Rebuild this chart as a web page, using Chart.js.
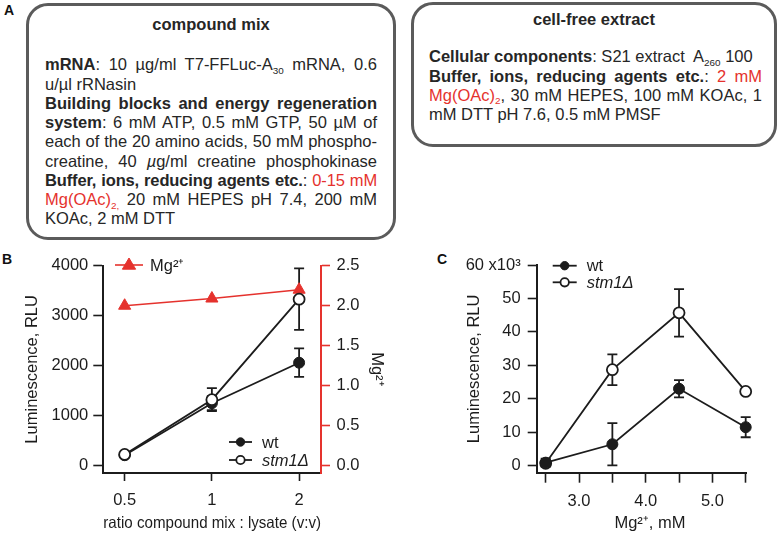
<!DOCTYPE html>
<html>
<head>
<meta charset="utf-8">
<script src="https://cdn.jsdelivr.net/npm/chart.js@4/dist/chart.umd.min.js"></script>
<style>
  body{margin:0;background:#fff;}
  #page{position:relative;width:778px;height:533px;overflow:hidden;font-family:"Liberation Sans",Arial,sans-serif;color:#262626;}
  .box{position:absolute;box-sizing:border-box;border:3.5px solid #5b5b5b;border-radius:22px;}
  .head{position:absolute;font-weight:bold;font-size:16.5px;line-height:20px;text-align:center;}
  .txt{position:absolute;font-size:16.5px;}
  .txt div{text-align:justify;text-align-last:justify;height:19.25px;line-height:19.25px;}
  .txt div.l{text-align-last:left;}
  .red{color:#e5322d;}
  .sub{font-size:0.6em;position:relative;top:0.35em;line-height:0;}
  .letter{position:absolute;font-weight:bold;font-size:14px;line-height:14px;color:#111;}
  canvas{position:absolute;}
</style>
</head>
<body>
<div id="page">
  <div class="letter" style="left:4px;top:3px">A</div>
  <div class="letter" style="left:2px;top:252px">B</div>
  <div class="letter" style="left:437px;top:252px">C</div>

  <div class="box" style="left:26px;top:3px;width:370px;height:237px"></div>
  <div class="head" style="left:26px;top:14px;width:370px">compound mix</div>
  <div class="txt" style="left:45px;top:55.4px;width:332px">
    <div><b>mRNA</b>: 10 µg/ml T7-FFLuc-A<span class="sub">30</span> mRNA, 0.6</div>
    <div class="l">u/µl rRNasin</div>
    <div><b>Building blocks and energy regeneration</b></div>
    <div><b>system</b>: 6 mM ATP, 0.5 mM GTP, 50 µM of</div>
    <div>each of the 20 amino acids, 50 mM phospho-</div>
    <div>creatine, 40 <i>µ</i>g/ml creatine phosphokinase</div>
    <div style="letter-spacing:-0.15px"><b>Buffer, ions, reducing agents etc.</b>: <span class="red">0-15 mM</span></div>
    <div><span class="red">Mg(OAc)<span class="sub">2,</span></span> 20 mM HEPES pH 7.4, 200 mM</div>
    <div class="l">KOAc, 2 mM DTT</div>
  </div>

  <div class="box" style="left:411px;top:2px;width:366px;height:145px"></div>
  <div class="head" style="left:411px;top:9px;width:366px">cell-free extract</div>
  <div class="txt" style="left:429px;top:47.4px;width:333px">
    <div class="l"><b>Cellular components</b>: S21 extract&nbsp; A<span class="sub">260</span> 100</div>
    <div><b>Buffer, ions, reducing agents etc.</b>: <span class="red">2 mM</span></div>
    <div><span class="red">Mg(OAc)<span class="sub">2</span></span>, 30 mM HEPES, 100 mM KOAc, 1</div>
    <div class="l">mM DTT pH 7.6, 0.5 mM PMSF</div>
  </div>

  <canvas id="chartB" width="400" height="293" style="left:0;top:240px"></canvas>
  <canvas id="chartC" width="378" height="293" style="left:400px;top:240px"></canvas>
</div>
<script>
// panel B: ratio compound mix : lysate
const ratios=[0.5,1,2];
const wtB=[210,1250,2060];
const wtErrB=[30,140,285];
const stmB=[225,1320,3330];
const stmErrB=[30,230,615];
const mgB=[2.0,2.09,2.2];
const bLeftTicks=[0,1000,2000,3000,4000];
const bRightTicks=[0,0.5,1,1.5,2,2.5];

// panel C: Mg2+ titration
const mgConc=[2.5,3.5,4.5,5.5];
const wtC=[0.9,6.4,23.0,11.5];
const wtErrC=[1.2,6.3,2.6,3.0];
const stmC=[0.7,28.7,45.7,22.2];
const stmErrC=[0.5,4.6,7.1,0];
const cYTicks=[0,10,20,30,40,50,60];
const cXTicks=[2.5,3,3.5,4,4.5,5,5.5];

const FONT='"Liberation Sans", Arial, sans-serif';
const INK='#1c1c1c';
const RED='#e5322d';
const tickFont={family:FONT,size:16.5};

function pts(xs,ys){ return xs.map((x,i)=>({x:x,y:ys[i]})); }
function fixTicks(list){ return s=>{ s.ticks=list.map(v=>({value:v})); }; }

// vertical error bars with caps, drawn under the markers
const errorBars={
  id:'errorBars',
  beforeDatasetsDraw(chart){
    const ctx=chart.ctx;
    chart.data.datasets.forEach((ds,di)=>{
      if(!ds.errors) return;
      const meta=chart.getDatasetMeta(di);
      const ys=chart.scales[meta.yAxisID];
      meta.data.forEach((pt,i)=>{
        const e=ds.errors[i];
        if(!e) return;
        const v=ds.data[i].y;
        const t=ys.getPixelForValue(v+e), b=ys.getPixelForValue(v-e);
        ctx.save();
        ctx.strokeStyle=ds.borderColor; ctx.lineWidth=1.8;
        ctx.beginPath();
        ctx.moveTo(pt.x,t); ctx.lineTo(pt.x,b);
        ctx.moveTo(pt.x-5,t); ctx.lineTo(pt.x+5,t);
        ctx.moveTo(pt.x-5,b); ctx.lineTo(pt.x+5,b);
        ctx.stroke();
        ctx.restore();
      });
    });
  }
};

// small hand-placed keys
const keyBox={
  id:'keyBox',
  afterDraw(chart,args,opts){
    const ctx=chart.ctx;
    (opts.groups||[]).forEach(g=>{
      g.items.forEach((it,k)=>{
        const ds=chart.data.datasets[it.ds];
        const y=g.y+k*g.row, cx=g.x+g.len/2;
        ctx.save();
        ctx.strokeStyle=ds.borderColor; ctx.lineWidth=ds.borderWidth;
        ctx.beginPath(); ctx.moveTo(g.x,y); ctx.lineTo(g.x+g.len,y); ctx.stroke();
        ctx.fillStyle=ds.pointBackgroundColor; ctx.strokeStyle=ds.pointBorderColor;
        ctx.lineWidth=ds.pointBorderWidth||1;
        ctx.beginPath();
        if(ds.pointStyle==='triangle'){
          const r=g.r;
          ctx.moveTo(cx,y-r); ctx.lineTo(cx+r*0.95,y+r*0.6); ctx.lineTo(cx-r*0.95,y+r*0.6); ctx.closePath();
        } else {
          ctx.arc(cx,y,g.r,0,Math.PI*2);
        }
        ctx.fill(); ctx.stroke();
        ctx.fillStyle=INK;
        ctx.font=(it.italic?'italic ':'')+'16.5px '+FONT;
        ctx.textBaseline='middle'; ctx.textAlign='left';
        ctx.fillText(ds.label,g.x+g.len+g.gap,y+1);
        ctx.restore();
      });
    });
  }
};

function blackAxis(extra){
  return Object.assign({
    grid:{drawOnChartArea:false,drawTicks:true,tickLength:9,color:INK,tickColor:INK,tickWidth:1.6},
    border:{display:true,color:INK,width:2}
  },extra);
}

new Chart(document.getElementById('chartB'),{
  type:'line',
  data:{datasets:[
    {label:'stm1Δ',data:pts(ratios,stmB),errors:stmErrB,yAxisID:'y',borderColor:INK,borderWidth:1.8,clip:false,
     pointRadius:5.5,pointBackgroundColor:'#fff',pointBorderColor:INK,pointBorderWidth:1.8},
    {label:'wt',data:pts(ratios,wtB),errors:wtErrB,yAxisID:'y',borderColor:INK,borderWidth:1.8,clip:false,
     pointRadius:5.5,pointBackgroundColor:INK,pointBorderColor:INK,pointBorderWidth:1},
    {label:'Mg²⁺',data:pts(ratios,mgB),yAxisID:'y2',borderColor:RED,borderWidth:1.6,pointStyle:'triangle',clip:false,
     pointRadius:7,pointBackgroundColor:RED,pointBorderColor:RED,pointBorderWidth:1}
  ]},
  options:{
    responsive:false,animation:false,
    layout:{padding:{top:25.7,left:0,right:0,bottom:0}},
    plugins:{legend:{display:false},tooltip:{enabled:false},
      keyBox:{groups:[
        {x:115,y:25,len:28,gap:7,row:18,r:7,items:[{ds:2}]},
        {x:229,y:202,len:23,gap:10,row:18,r:4.2,items:[{ds:1},{ds:0,italic:true}]}
      ]}},
    scales:{
      x:blackAxis({type:'logarithmic',position:'bottom',min:0.422,max:2.38,
        afterBuildTicks:fixTicks(ratios),afterFit:s=>{s.height=60;},
        grid:{drawOnChartArea:false,drawTicks:true,tickLength:8,color:INK,tickColor:INK,tickWidth:1.6},
        ticks:{font:tickFont,color:INK,padding:10,maxRotation:0,callback:v=>String(v)},
        title:{display:true,text:'ratio compound mix : lysate (v:v)',font:tickFont,color:INK,padding:{top:0,bottom:0}}}),
      y:blackAxis({position:'left',min:-146,max:4000,
        afterBuildTicks:fixTicks(bLeftTicks),afterFit:s=>{s.width=103.3;},
        grid:{drawOnChartArea:false,drawTicks:true,tickLength:10,color:INK,tickColor:INK,tickWidth:1.6},
        ticks:{font:tickFont,color:INK,padding:5,callback:v=>String(v)},
        title:{display:true,text:'Luminescence, RLU',font:tickFont,color:INK,padding:{top:23,bottom:0}}}),
      y2:{position:'right',min:-0.09,max:2.5,
        afterBuildTicks:fixTicks(bRightTicks),afterFit:s=>{s.width=79;},
        grid:{drawOnChartArea:false,drawTicks:true,tickLength:9,color:RED,tickColor:RED,tickWidth:1.6},
        border:{display:true,color:RED,width:2},
        ticks:{font:tickFont,color:INK,padding:6.5,callback:v=>v.toFixed(1)},
        title:{display:true,text:'Mg²⁺',font:tickFont,color:INK,padding:{top:13.4,bottom:0}}}
    }
  },
  plugins:[errorBars,keyBox]
});

new Chart(document.getElementById('chartC'),{
  type:'line',
  data:{datasets:[
    {label:'wt',data:pts(mgConc,wtC),errors:wtErrC,borderColor:INK,borderWidth:1.8,clip:false,
     pointRadius:5.5,pointBackgroundColor:INK,pointBorderColor:INK,pointBorderWidth:1},
    {label:'stm1Δ',data:pts(mgConc,stmC),errors:stmErrC,borderColor:INK,borderWidth:1.8,clip:false,
     pointRadius:5.5,pointBackgroundColor:'#fff',pointBorderColor:INK,pointBorderWidth:1.8}
  ]},
  options:{
    responsive:false,animation:false,
    layout:{padding:{top:25,left:0,right:31.3,bottom:0}},
    plugins:{legend:{display:false},tooltip:{enabled:false},
      keyBox:{groups:[
        {x:152.7,y:25.7,len:24,gap:10,row:16.6,r:4.2,items:[{ds:0},{ds:1,italic:true}]}
      ]}},
    scales:{
      x:blackAxis({type:'linear',position:'bottom',min:2.365,max:5.515,
        afterBuildTicks:fixTicks(cXTicks),afterFit:s=>{s.height=60.3;},
        grid:{drawOnChartArea:false,drawTicks:true,tickLength:10,color:INK,tickColor:INK,tickWidth:1.6},
        ticks:{font:tickFont,color:INK,padding:8.4,maxRotation:0,autoSkip:false,
          callback:v=>Number.isInteger(v)?v.toFixed(1):''},
        title:{display:true,text:'\u2003Mg²⁺, mM',font:tickFont,color:INK,padding:{top:0,bottom:0}}}),
      y:blackAxis({position:'left',min:-2.1,max:60,
        afterBuildTicks:fixTicks(cYTicks),afterFit:s=>{s.width=136.7;},
        ticks:{font:tickFont,color:INK,padding:7,callback:v=>v===60?'60 x10³':String(v)},
        title:{display:true,text:'Luminescence, RLU',font:tickFont,color:INK,padding:{top:65,bottom:0}}})
    }
  },
  plugins:[errorBars,keyBox]
});
</script>
</body>
</html>
